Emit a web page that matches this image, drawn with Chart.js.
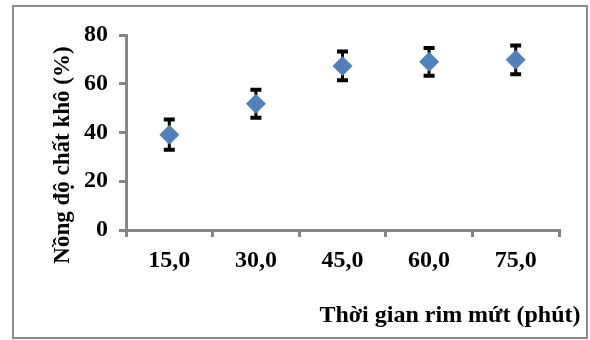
<!DOCTYPE html>
<html>
<head>
<meta charset="utf-8">
<script src="https://cdn.jsdelivr.net/npm/chart.js@4/dist/chart.umd.min.js"></script>
<style>
  html, body { margin: 0; padding: 0; background: #fff; }
  #wrap { width: 590px; height: 340px; }
</style>
</head>
<body>
<div id="wrap"><canvas id="chart" width="590" height="340"></canvas></div>
<script>
// data
const categories = ['15,0', '30,0', '45,0', '60,0', '75,0'];
const dryMatter  = [39.1, 51.8, 67.3, 69.0, 69.8];
const errors     = [6.2, 5.7, 5.9, 5.7, 5.9];
const yTicks     = [0, 20, 40, 60, 80];
const xTitle = 'Thời gian rim mứt (phút)';
const yTitle = 'Nồng độ chất khô (%)';

const serif = '"Liberation Serif", "Times New Roman", serif';
const axisGray = '#868686';

// error bars + frame + axis titles
const extras = {
  id: 'extras',
  beforeDraw(chart) {
    const c = chart.ctx;
    c.save();
    c.strokeStyle = '#8c8c8c';
    c.lineWidth = 2;
    c.strokeRect(13, 6, 574, 332);
    c.restore();
  },
  beforeDatasetsDraw(chart) {
    const c = chart.ctx, xs = chart.scales.x, ys = chart.scales.y;
    c.save();
    c.strokeStyle = '#000';
    dryMatter.forEach((v, i) => {
      const x = xs.getPixelForValue(i);
      const top = ys.getPixelForValue(v + errors[i]);
      const bot = ys.getPixelForValue(v - errors[i]);
      c.lineWidth = 3;
      c.beginPath(); c.moveTo(x, top); c.lineTo(x, bot); c.stroke();
      c.lineWidth = 4;
      c.beginPath();
      c.moveTo(x - 5.5, top); c.lineTo(x + 5.5, top);
      c.moveTo(x - 5.5, bot); c.lineTo(x + 5.5, bot);
      c.stroke();
    });
    c.restore();
  },
  afterDraw(chart) {
    const c = chart.ctx;
    c.save();
    c.fillStyle = '#000';
    c.font = 'bold 24px ' + serif;
    c.textAlign = 'center';
    c.textBaseline = 'middle';
    c.fillText(xTitle, 450, 316);
    c.font = 'bold 23px ' + serif;
    c.translate(63, 155);
    c.rotate(-Math.PI / 2);
    c.fillText(yTitle, 0, 0);
    c.restore();
  }
};

new Chart(document.getElementById('chart'), {
  type: 'line',
  data: {
    labels: categories,
    datasets: [{
      data: dryMatter,
      showLine: false,
      pointStyle: 'rectRot',
      pointRadius: 10,
      pointHoverRadius: 10,
      backgroundColor: '#4F81BD',
      borderColor: '#4F81BD',
      borderWidth: 0
    }]
  },
  options: {
    responsive: false,
    animation: false,
    events: [],
    layout: { padding: { top: 35, right: 31, left: 0, bottom: 0 } },
    plugins: { legend: { display: false }, tooltip: { enabled: false } },
    scales: {
      x: {
        type: 'category',
        offset: true,
        afterFit(s) { s.height = 110; },
        grid: { offset: true, drawOnChartArea: false, drawTicks: true, tickLength: 7, color: axisGray, lineWidth: 3 },
        border: { color: axisGray, width: 3 },
        ticks: { color: '#000', padding: 9, font: { family: serif, size: 24, weight: 'bold' } }
      },
      y: {
        min: 0, max: 80,
        afterFit(s) { s.width = 126; },
        afterBuildTicks(s) { s.ticks = yTicks.map(v => ({ value: v })); },
        grid: { drawOnChartArea: false, drawTicks: true, tickLength: 7, color: axisGray, lineWidth: 3 },
        border: { color: axisGray, width: 3 },
        ticks: { color: '#000', padding: 11, font: { family: serif, size: 24, weight: 'bold' } }
      }
    }
  },
  plugins: [extras]
});
</script>
</body>
</html>
